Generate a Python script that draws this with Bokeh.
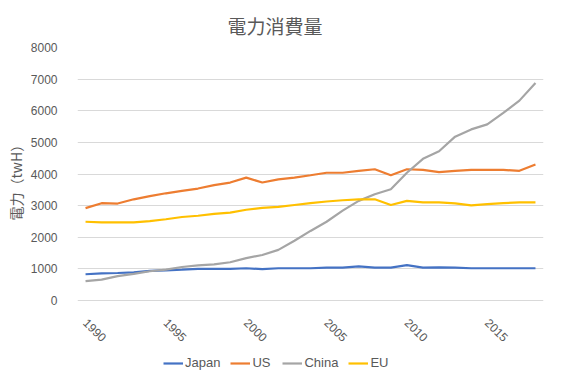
import math
from bokeh.plotting import figure
from bokeh.models import Range1d, FixedTicker, Legend, LegendItem, Title
from bokeh.core.properties import value
from bokeh.embed import file_html
from bokeh.resources import INLINE

years = [1990, 1991, 1992, 1993, 1994, 1995, 1996, 1997, 1998, 1999,
         2000, 2001, 2002, 2003, 2004, 2005, 2006, 2007, 2008, 2009,
         2010, 2011, 2012, 2013, 2014, 2015, 2016, 2017, 2018]
japan = [830, 860, 870, 890, 935, 955, 975, 1000, 1000, 1000,
         1020, 990, 1020, 1020, 1020, 1040, 1040, 1080, 1040, 1040,
         1120, 1040, 1050, 1040, 1020, 1020, 1020, 1020, 1020]
us = [2920, 3076, 3066, 3200, 3300, 3390, 3465, 3540, 3650, 3730,
      3885, 3730, 3830, 3885, 3960, 4040, 4040, 4100, 4150, 3960,
      4150, 4130, 4060, 4100, 4130, 4130, 4130, 4100, 4300]
china = [610, 660, 770, 840, 925, 975, 1060, 1110, 1145, 1210,
         1340, 1440, 1600, 1890, 2200, 2490, 2840, 3150, 3360, 3520,
         4040, 4480, 4720, 5180, 5410, 5570, 5930, 6320, 6880]
eu = [2490, 2470, 2470, 2470, 2510, 2570, 2640, 2680, 2740, 2780,
      2870, 2930, 2960, 3020, 3080, 3130, 3170, 3200, 3200, 3020,
      3150, 3100, 3100, 3070, 3010, 3045, 3080, 3100, 3100]
tick_years = [1990, 1995, 2000, 2005, 2010, 2015]
y_ticks = [0, 1000, 2000, 3000, 4000, 5000, 6000, 7000, 8000]
series_names = ["Japan", "US", "China", "EU"]
series_colors = ["#4472C4", "#ED7D31", "#A5A5A5", "#FFC000"]
title_text = "電力消費量"
y_label = "電力（twH）"

TXT = "#595959"

PLOT_PX = 253
EXTRA_PX = 70
y_max = y_ticks[-1]
y_min = -EXTRA_PX * y_max / PLOT_PX
label_y = -20 * y_max / PLOT_PX

p = figure(output_backend="svg", toolbar_location=None, x_axis_location=None,
           x_range=Range1d(years[0] - 0.5, years[-1] + 0.5), y_range=Range1d(y_min, y_max),
           frame_width=466, frame_height=PLOT_PX + EXTRA_PX,
           min_border_left=77, min_border_right=8, min_border_top=0, min_border_bottom=0)
p.outline_line_color = None

p.title.text = title_text
p.title.align = "left"
p.title.offset = 150
p.title.text_font = "Noto Sans CJK JP"
p.title.text_font_size = "19px"
p.title.text_font_style = "normal"
p.title.text_color = TXT
p.title.standoff = 18

items = []
for name, col, vals in zip(series_names, series_colors, [japan, us, china, eu]):
    r = p.line(years, vals, line_color=col, line_width=2.2)
    items.append(LegendItem(label=name, renderers=[r]))

p.text(x=tick_years, y=[label_y] * len(tick_years), text=[str(y) for y in tick_years],
       angle=-math.pi / 4, text_align="left", text_baseline="middle",
       text_font=value("Liberation Sans"), text_font_size=value("12px"), text_color=TXT)

p.yaxis.ticker = FixedTicker(ticks=y_ticks)
p.ygrid.grid_line_color = "#d9d9d9"
p.xgrid.grid_line_color = None

ax = p.yaxis[0]
ax.major_tick_line_color = None
ax.minor_tick_line_color = None
ax.axis_line_color = None
ax.major_label_text_color = TXT
ax.major_label_text_font = "Liberation Sans"
ax.major_label_text_font_size = "12px"
ax.major_label_standoff = 14

ylab = Title(text=y_label, align="left", offset=150, text_font="Noto Sans CJK JP",
             text_font_size="14px", text_font_style="normal", text_color=TXT, standoff=4)
p.add_layout(ylab, "left")

legend = Legend(items=items, orientation="horizontal", location=(86, 0),
                label_text_font="Liberation Sans", label_text_font_size="13px",
                label_text_color=TXT, glyph_width=20, glyph_height=10,
                label_standoff=2, spacing=10, border_line_color=None,
                background_fill_alpha=0, margin=0, padding=2)
p.add_layout(legend)

open("out.html", "w").write(file_html(p, INLINE))
